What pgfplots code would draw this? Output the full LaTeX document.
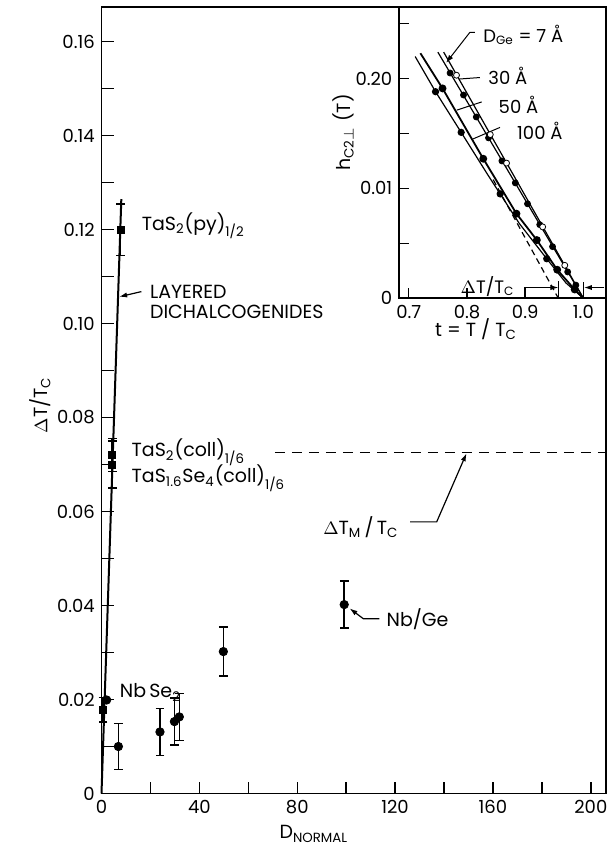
\documentclass[border=0pt]{standalone}
\usepackage{fontspec}
\setmainfont{Poppins}
\usepackage{pgfplots}
\pgfplotsset{compat=1.18}
\usetikzlibrary{arrows.meta}

\begin{document}
\fontsize{9.5}{11}\selectfont
\begin{tikzpicture}[>={Latex[length=4pt,width=2.6pt]}]
\pgfplotsset{
  every axis/.append style={
    scale only axis,
    tick align=inside,
    xtick pos=bottom, ytick pos=left,
    axis line style={line width=0.9pt},
    major tick style={line width=0.7pt, black},
    tick label style={font=\fontsize{9}{10}\selectfont},
    clip=false,
  },
  ebar/.style={
    error bars/.cd, y dir=both, y explicit,
    error bar style={line width=0.8pt},
    error mark options={rotate=90, mark size=2.2pt, line width=0.8pt},
  },
}
% main plot
\begin{axis}[
  name=main, at={(0,0)}, anchor=south west,
  width=252.25pt, height=393.1pt,
  xmin=0, xmax=206.2, ymin=0, ymax=0.1673,
  major tick length=6pt,
  xtick={0,20,...,200},
  xticklabels={0,,40,,80,,120,,160,,200},
  ytick={0,0.01,0.02,0.03,0.04,0.05,0.06,0.07,0.08,0.09,0.10,0.11,0.12,0.13,0.14,0.15,0.16},
  yticklabels={0,,0.02,,0.04,,0.06,,0.08,,0.10,,0.12,,0.14,,0.16},
  xlabel={D\textsubscript{NORMAL}},
  xlabel style={at={(rel axis cs:0.421,-0.0515)}, anchor=center},
  ylabel={$\Delta$T/T\textsubscript{C}},
  ylabel style={at={(rel axis cs:-0.122,0.494)}, anchor=center},
]
% layered dichalcogenides
\addplot[line width=1pt] coordinates {(0,0) (8.1,0.1265)};
\addplot[only marks, mark=square*, mark size=1.8pt, ebar] coordinates {
  (7.8,0.120) +- (0,0.0055)
  (4.4,0.072) +- (0,0.0035)
  (4.4,0.070) +- (0,0.005)
  (0.6,0.0178) +- (0,0.0026)
};
\addplot[only marks, mark=*, mark size=2.1pt] coordinates {(2.1,0.0199)};
\addplot[line width=0.8pt] coordinates {(0,0.010) (6.9,0.010)};
% Nb/Ge
\addplot[only marks, mark=*, mark size=2.1pt, ebar] coordinates {
  (6.9,0.0100) +- (0,0.0049)
  (23.9,0.0131) +- (0,0.005)
  (29.8,0.0153) +- (0,0.005)
  (31.8,0.0163) +- (0,0.005)
  (49.8,0.0302) +- (0,0.0052)
  (99.2,0.0402) +- (0,0.005)
};
% Delta T_M / T_C
\addplot[line width=0.7pt, dash pattern=on 5pt off 3.5pt] coordinates {(70.9,0.0725) (206.2,0.0725)};

\node[anchor=west] at (axis cs:13.7,0.1208) {TaS\textsubscript{2}(py)\textsubscript{1/2}};
\node[anchor=west] at (axis cs:17.1,0.1068) {LAYERED};
\node[anchor=west] at (axis cs:17.1,0.1024) {DICHALCOGENIDES};
\draw[->, line width=0.6pt] (axis cs:16.3,0.1068) -- (axis cs:7.2,0.1057);
\node[anchor=west] at (axis cs:9.6,0.0726) {TaS\textsubscript{2}(coll)\textsubscript{1/6}};
\node[anchor=west] at (axis cs:9.6,0.0671) {TaS\textsubscript{1.6}Se\textsubscript{4}(coll)\textsubscript{1/6}};
\node[anchor=west] at (axis cs:87.9,0.0567) {$\Delta$T\textsubscript{M}\,/\,T\textsubscript{C}};
\draw[->, line width=0.6pt] (axis cs:126.1,0.0578) -- (axis cs:137,0.0578) -- (axis cs:149.2,0.0724);
\node[anchor=west] at (axis cs:113.8,0.0372) {Nb/Ge};
\draw[->, line width=0.6pt] (axis cs:113.6,0.0372) -- (axis cs:107,0.0372) -- (axis cs:101.4,0.0394);
\node[anchor=west] at (axis cs:4.8,0.0215) {Nb\,Se\textsubscript{2}};
\end{axis}

% inset
\begin{axis}[
  at={(main.north east)}, anchor=north east,
  width=103.5pt, height=145.5pt,
  xmin=0.6832, xmax=1.0388, ymin=0, ymax=0.2648,
  axis background/.style={fill=white},
  major tick length=5pt,
  xtick={0.7,0.8,0.9,1.0}, xticklabels={0.7,0.8,0.9,1.0},
  ytick={0,0.05,0.10,0.15,0.20,0.25}, yticklabels={0,,0.01,,0.20,},
  xlabel={t = T / T\textsubscript{C}},
  xlabel style={at={(rel axis cs:0.372,-0.105)}, anchor=center},
  ylabel={h\textsubscript{C2$\perp$} (T)},
  ylabel style={at={(rel axis cs:-0.27,0.57)}, anchor=center},
]
% D = 7 A
\addplot[line width=0.6pt] coordinates {(0.750,0.224) (1.0,0)};
\addplot[only marks, mark=*, mark size=1.5pt] coordinates {
  (0.771,0.205) (0.794,0.185) (0.816,0.165) (0.837,0.146) (0.860,0.125) (0.883,0.105)
  (0.904,0.086) (0.925,0.067) (0.947,0.047) (0.973,0.024) (0.987,0.012)
};
% D = 30 A
\addplot[line width=0.6pt] coordinates {(0.760,0.224) (1.0,0)};
\addplot[only marks, mark=*, mark size=1.5pt, fill=white] coordinates {
  (0.782,0.203) (0.840,0.149) (0.868,0.123) (0.930,0.065) (0.968,0.030)
};
% D = 50 A
\addplot[line width=0.9pt, mark=*, mark size=1.5pt, mark indices={2,3,4,5,6,7}] coordinates {
  (0.720,0.223) (0.758,0.191) (0.828,0.127) (0.885,0.077) (0.920,0.053) (0.955,0.026) (0.985,0.008) (1.0,0)
};
% D = 100 A
\addplot[line width=0.6pt, mark=*, mark size=1.5pt, mark indices={2,3,5,7}] coordinates {
  (0.711,0.220) (0.746,0.188) (0.790,0.151) (0.835,0.113) (0.857,0.095) (0.890,0.068) (0.937,0.036) (0.970,0.014) (1.0,0)
};
% linear extrapolation
\addplot[line width=0.6pt, dash pattern=on 3pt off 2pt] coordinates {(0.845,0.108) (0.957,0)};

\node[anchor=west, font=\fontsize{9}{10}\selectfont] at (axis cs:0.8165,0.240) {D\textsubscript{Ge} = 7 Å};
\draw[->, line width=0.5pt] (axis cs:0.8136,0.2419) -- (axis cs:0.8048,0.2419) -- (axis cs:0.7641,0.2142);
\node[anchor=west, font=\fontsize{9}{10}\selectfont] at (axis cs:0.8253,0.2021) {30 Å};
\draw[line width=0.5pt] (axis cs:0.8223,0.2009) -- (axis cs:0.786,0.1995);
\node[anchor=west, font=\fontsize{9}{10}\selectfont] at (axis cs:0.843,0.1757) {50 Å};
\draw[line width=0.5pt] (axis cs:0.8253,0.1787) -- (axis cs:0.7823,0.1712);
\node[anchor=west, font=\fontsize{9}{10}\selectfont] at (axis cs:0.8747,0.1525) {100 Å};
\draw[line width=0.5pt] (axis cs:0.8567,0.1555) -- (axis cs:0.8081,0.1445);
\node[anchor=west, font=\fontsize{9}{10}\selectfont, inner sep=1pt] at (axis cs:0.785,0.0105) {$\Delta$T/T\textsubscript{C}};
\draw[->, line width=0.5pt] (axis cs:0.898,0.0098) -- (axis cs:0.957,0.0098);
\draw[line width=0.5pt] (axis cs:0.957,0) -- (axis cs:0.957,0.016);
\draw[->, line width=0.5pt] (axis cs:1.036,0.0098) -- (axis cs:1.001,0.0098);
\draw[line width=0.5pt] (axis cs:1.001,0.004) -- (axis cs:1.001,0.015);
\end{axis}
\pgfresetboundingbox
\path[use as bounding box] (-50.75pt,396.75pt) rectangle (255.75pt,-27.25pt);
\end{tikzpicture}
\end{document}
